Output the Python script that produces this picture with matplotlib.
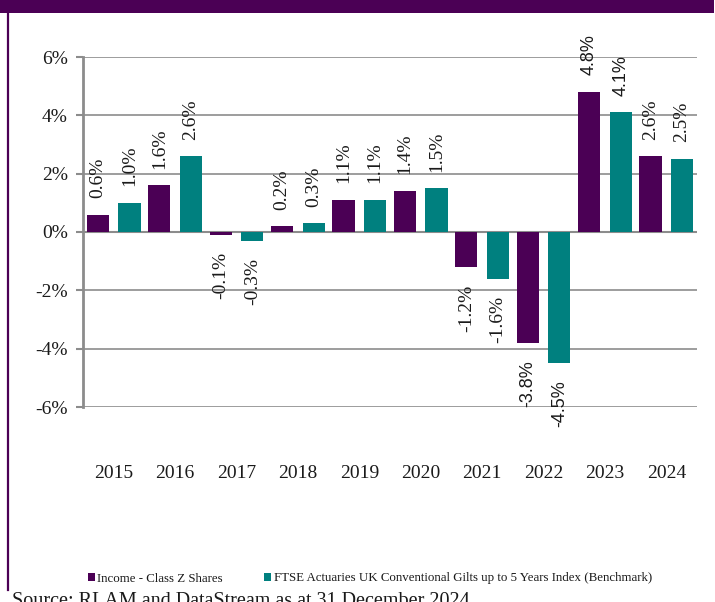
import matplotlib
matplotlib.use("Agg")
import matplotlib.pyplot as plt
from matplotlib.patches import Patch, Rectangle
from matplotlib.lines import Line2D
import numpy as np

years = ["2015", "2016", "2017", "2018", "2019", "2020", "2021", "2022", "2023", "2024"]
fund = [0.6, 1.6, -0.1, 0.2, 1.1, 1.4, -1.2, -3.8, 4.8, 2.6]
bench = [1.0, 2.6, -0.3, 0.3, 1.1, 1.5, -1.6, -4.5, 4.1, 2.5]
series_names = ["Income - Class Z Shares",
                "FTSE Actuaries UK Conventional Gilts up to 5 Years Index (Benchmark)"]
yticks = [-6, -4, -2, 0, 2, 4, 6]
source_text = "Source: RLAM and DataStream as at 31 December 2024"

PURPLE = "#4B0055"
TEAL = "#00807F"
GRID = "#8C8C8C"
TXT = "#1a1a1a"
SERIF = ["Liberation Serif", "DejaVu Serif"]
SANS = ["Liberation Sans", "DejaVu Sans"]
SANS_LABEL_YEARS = {"2022", "2023"}  # labels rendered in sans in the reference

W, H = 715, 602
fig = plt.figure(figsize=(W / 100, H / 100), dpi=100)
ax = fig.add_axes([83 / W, 1 - 407 / H, (697 - 83) / W, (407 - 57) / H])

x = np.arange(len(years))
off = 0.257
bw = 0.36
b1 = ax.bar(x - off, fund, width=bw, color=PURPLE, zorder=3)
b2 = ax.bar(x + off, bench, width=bw, color=TEAL, zorder=3)

for bars, vals in ((b1, fund), (b2, bench)):
    for yr, rect, v in zip(years, bars, vals):
        cx = rect.get_x() + rect.get_width() / 2
        if yr in SANS_LABEL_YEARS:
            fam, fs = SANS, 13
        else:
            fam, fs = SERIF, 14
        if v >= 0:
            ax.annotate(f"{v:.1f}%", (cx, v), xytext=(0, 12), textcoords="offset points",
                        rotation=90, ha="center", va="bottom", fontsize=fs,
                        family=fam, color=TXT, zorder=4)
        else:
            ax.annotate(f"{v:.1f}%", (cx, v), xytext=(0, -12.5), textcoords="offset points",
                        rotation=90, ha="center", va="top", fontsize=fs,
                        family=fam, color=TXT, zorder=4)

ax.set_xlim(-0.5, len(years) - 0.5)
ax.set_ylim(-6, 6)
ax.set_yticks(yticks)
ax.set_yticklabels([f"{t}%" for t in yticks], family=SERIF, fontsize=14, color=TXT)
ax.set_xticks(x)
ax.set_xticklabels(years, family=SERIF, fontsize=14, color=TXT)
ax.tick_params(axis="x", length=0, pad=42)
ax.tick_params(axis="y", length=5, width=1.5, color=GRID, pad=6)
ax.grid(axis="y", color=GRID, linewidth=1.2, zorder=0)
ax.axhline(0, color=GRID, linewidth=1.5, zorder=2)
for s in ("top", "right", "bottom"):
    ax.spines[s].set_visible(False)
ax.spines["left"].set_color(GRID)
ax.spines["left"].set_linewidth(2)
ax.set_facecolor("white")

# frame decorations
fig.add_artist(Rectangle((0, 1 - 13 / H), 714 / W, 13 / H, transform=fig.transFigure,
                         facecolor=PURPLE, edgecolor="none"))
fig.add_artist(Line2D([8.3 / W, 8.3 / W], [1 - 12 / H, 1 - 590 / H], transform=fig.transFigure,
                      color=PURPLE, linewidth=1.6))

handles = [Patch(facecolor=PURPLE, edgecolor="none"), Patch(facecolor=TEAL, edgecolor="none")]
leg = fig.legend(handles, series_names, loc="center", bbox_to_anchor=(370 / W, 1 - 578.5 / H),
                 ncol=2, frameon=False, prop={"family": SERIF, "size": 9.3},
                 handlelength=0.55, handleheight=0.55, handletextpad=0.2, columnspacing=3.2,
                 borderpad=0, borderaxespad=0)
for t in leg.get_texts():
    t.set_color(TXT)

fig.text(12 / W, 1 - 606 / H, source_text, family=SERIF, fontsize=14.5, ha="left",
         va="baseline", color=TXT)

fig.savefig("out.png", dpi=100)
